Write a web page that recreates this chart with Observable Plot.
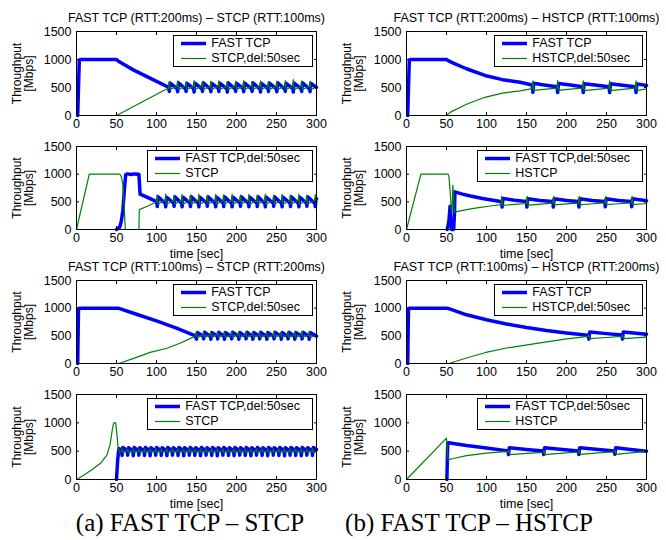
<!DOCTYPE html>
<html>
<head>
<meta charset="utf-8">
<script src="https://cdn.jsdelivr.net/npm/d3@7"></script>
<script src="https://cdn.jsdelivr.net/npm/@observablehq/plot@0.6"></script>
<style>
  body { margin: 0; background: #fff; }
  #fig { position: relative; width: 666px; height: 540px; overflow: hidden;
         font-family: "Liberation Sans", Arial, Helvetica, sans-serif; color: #000; }
  #fig svg.panel { position: absolute; }
  .legend { position: absolute; background: #fff; border: 1px solid #000;
            font-size: 12.5px; line-height: 15px; padding: 0px 12px 0px 7px; white-space: nowrap; }
  .legend .row { display: flex; align-items: center; height: 15px; }
  .legend .row svg { margin-right: 5px; flex: none; }
  .caption { position: absolute; font-family: "Liberation Serif", "Times New Roman", serif;
             font-size: 25px; line-height: 23px; white-space: nowrap; transform: translateX(-50%); }
</style>
</head>
<body>
<div id="fig"></div>
<script>
// ---- axis ticks ----
const xTicks = [0, 50, 100, 150, 200, 250, 300];
const yTicks = [0, 500, 1000, 1500];

// ---- titles / labels ----
const titles = [
  "FAST TCP (RTT:200ms) – STCP (RTT:100ms)",
  "FAST TCP (RTT:200ms) – HSTCP (RTT:100ms)",
  "FAST TCP (RTT:100ms) – STCP (RTT:200ms)",
  "FAST TCP (RTT:100ms) – HSTCP (RTT:200ms)"
];
const captions = ["(a) FAST TCP – STCP", "(b) FAST TCP – HSTCP"];
const yLabel = "Throughput\n[Mbps]";
const xLabel = "time [sec]";

// ---- throughput traces: [time (s), Mbps] ----
// FAST (RTT 200ms) vs STCP (RTT 100ms, starts at 50 s)
const fast1 = [
  [1.5,0],[3.5,990],[5,1000],[50,1000],[52,975],[60,905],[71,815],[90,680],[115,505],
  [116,430],[117,580],[126,475],
  [126.5,425],[127.5,585],[136.5,470],
  [137,430],[138,575],[146.5,480],
  [147,420],[148,580],[157,475],
  [157.5,430],[158.5,585],[167.5,470],
  [168,425],[169,575],[177.5,480],
  [178,430],[179,580],[188,475],
  [188.5,420],[189.5,585],[198.5,470],
  [199,430],[200,575],[208.5,480],
  [209,425],[210,580],[219,475],
  [219.5,430],[220.5,585],[229.5,470],
  [230,420],[231,575],[239.5,480],
  [240,430],[241,580],[250,475],
  [250.5,425],[251.5,585],[260.5,470],
  [261,430],[262,575],[270.5,480],
  [271,420],[272,580],[281,475],
  [281.5,430],[282.5,585],[291.5,470],
  [292,425],[293,575],[300,500]
];
const stcp1 = [
  [50,0],[115,490],
  [116,610],[117,465],[126,525],
  [126.5,620],[127.5,460],[136.5,530],
  [137,605],[138,465],[146.5,525],
  [147,625],[148,460],[157,530],
  [157.5,610],[158.5,465],[167.5,525],
  [168,615],[169,460],[177.5,530],
  [178,620],[179,465],[188,525],
  [188.5,605],[189.5,460],[198.5,530],
  [199,615],[200,465],[208.5,525],
  [209,625],[210,460],[219,530],
  [219.5,610],[220.5,465],[229.5,525],
  [230,620],[231,460],[239.5,530],
  [240,605],[241,465],[250,525],
  [250.5,615],[251.5,460],[260.5,530],
  [261,625],[262,465],[270.5,525],
  [271,640],[272,460],[281,530],
  [281.5,620],[282.5,465],[291.5,525],
  [292,615],[293,460],[300,515]
];

// FAST (RTT 200ms) vs HSTCP (RTT 100ms, starts at 50 s)
const fast2 = [
  [1.5,0],[3.5,990],[5,1000],[50,1000],[52,980],[60,925],[75,835],[98,715],[120,640],[142,595],[157,545],
  [158,415],[159,575],[170,550],[188,515],
  [189,410],[190,570],[205,545],[220,515],
  [221,410],[222,565],[238,540],[253,515],
  [254,410],[255,565],[270,540],[286,515],
  [287,410],[288,565],[300,535]
];
const hstcp2 = [
  [50,0],[55,60],[75,200],[98,325],[120,400],[142,440],[157,480],
  [158,620],[159,450],[175,470],[188,490],
  [189,625],[190,450],[205,470],[220,490],
  [221,620],[222,445],[238,468],[253,488],
  [254,620],[255,445],[270,467],[286,488],
  [287,620],[288,445],[300,475]
];

// FAST (RTT 200ms, starts at 50 s) vs STCP (RTT 100ms)
const fast3 = [
  [50,0],[54,40],[56,150],[58,350],[60,750],[61.5,990],[64,1005],[68,995],[72,1005],[77,1000],[78,995],
  [79.5,640],[90,570],[100,505],
  [101,415],[102,590],[111,470],
  [111.5,410],[112.5,585],[121.5,475],
  [122,420],[123,590],[131.5,470],
  [132,410],[133,585],[142,475],
  [142.5,415],[143.5,590],[152.5,470],
  [153,410],[154,585],[163,475],
  [163.5,420],[164.5,590],[173.5,470],
  [174,410],[175,585],[183.5,475],
  [184,415],[185,590],[194,470],
  [194.5,410],[195.5,585],[204.5,475],
  [205,420],[206,590],[215,470],
  [215.5,410],[216.5,585],[225.5,475],
  [226,415],[227,590],[235.5,470],
  [236,410],[237,585],[246,475],
  [246.5,420],[247.5,590],[256.5,470],
  [257,410],[258,585],[267,475],
  [267.5,415],[268.5,590],[277.5,470],
  [278,410],[279,585],[287.5,475],
  [288,420],[289,590],[298,470],
  [298.5,415],[299.5,560],[300,555]
];
const stcp3 = [
  [0,0],[16,1000],[54,1000],[56,960],[58,800],[59.5,450],[61,0],[78,0],[78.5,360],[90,430],[100,500],
  [101,625],[102,460],[111,530],
  [111.5,640],[112.5,455],[121.5,525],
  [122,620],[123,460],[131.5,530],
  [132,635],[133,455],[142,525],
  [142.5,625],[143.5,460],[152.5,530],
  [153,640],[154,455],[163,525],
  [163.5,620],[164.5,460],[173.5,530],
  [174,635],[175,455],[183.5,525],
  [184,625],[185,460],[194,530],
  [194.5,640],[195.5,455],[204.5,525],
  [205,620],[206,460],[215,530],
  [215.5,635],[216.5,455],[225.5,525],
  [226,625],[227,460],[235.5,530],
  [236,640],[237,455],[246,525],
  [246.5,620],[247.5,460],[256.5,530],
  [257,635],[258,455],[267,525],
  [267.5,625],[268.5,460],[277.5,530],
  [278,640],[279,455],[287.5,525],
  [288,620],[289,460],[298,530],
  [298.5,630],[299.5,470],[300,475]
];

// FAST (RTT 200ms, starts at 50 s) vs HSTCP (RTT 100ms)
const fast4 = [
  [51,0],[53,150],[54.5,420],[55.5,100],[56.5,0],[59,0],[60,300],[60.5,680],[70,640],[80,605],[95,560],[110,525],[119,500],
  [119.5,405],[120.5,560],[135,530],[150,505],
  [150.5,405],[151.5,555],[167,525],[183,505],
  [183.5,405],[184.5,555],[200,525],[215,505],
  [215.5,405],[216.5,555],[232,525],[248,505],
  [248.5,410],[249.5,555],[265,525],[281,505],
  [281.5,410],[282.5,555],[300,520]
];
const hstcp4 = [
  [0,0],[18,1000],[52,1000],[53,960],[54.5,700],[56,380],[57,330],[58,800],[59,560],[60,330],[61,320],
  [75,360],[90,395],[105,425],[118,450],
  [119,600],[120,435],[135,455],[150,470],
  [151,600],[152,440],[168,460],[183,475],
  [184,600],[185,445],[200,462],[215,478],
  [216,600],[217,445],[233,465],[248,480],
  [249,600],[250,450],[265,465],[281,480],
  [282,600],[283,450],[300,470]
];

// FAST (RTT 100ms) vs STCP (RTT 200ms, starts at 50 s)
const fast5 = [
  [1.5,0],[2.5,990],[4,1000],[52,1000],[75,890],[100,770],[125,640],[148,505],
  [150,440],[151,560],[158.5,490],
  [159,445],[160,565],[167.5,490],
  [168,440],[169,560],[176,495],
  [176.5,445],[177.5,565],[184.5,490],
  [185,440],[186,560],[193.5,490],
  [194,445],[195,565],[202.5,495],
  [203,440],[204,560],[211.5,490],
  [212,445],[213,565],[220,490],
  [220.5,440],[221.5,560],[228.5,495],
  [229,445],[230,565],[237.5,490],
  [238,440],[239,560],[246.5,490],
  [247,445],[248,565],[255.5,495],
  [256,440],[257,560],[264,490],
  [264.5,445],[265.5,565],[272.5,490],
  [273,440],[274,560],[281.5,495],
  [282,445],[283,565],[290.5,490],
  [291,440],[292,560],[300,495]
];
const stcp5 = [
  [53,0],[75,110],[92,200],[113,275],[130,370],[148,490],
  [150,565],[151,465],[158.5,520],
  [159,570],[160,470],[167.5,520],
  [168,565],[169,465],[176,525],
  [176.5,575],[177.5,470],[184.5,520],
  [185,565],[186,465],[193.5,520],
  [194,570],[195,470],[202.5,525],
  [203,565],[204,465],[211.5,520],
  [212,575],[213,470],[220,520],
  [220.5,565],[221.5,465],[228.5,525],
  [229,570],[230,470],[237.5,520],
  [238,565],[239,465],[246.5,520],
  [247,575],[248,470],[255.5,525],
  [256,565],[257,465],[264,520],
  [264.5,570],[265.5,470],[272.5,520],
  [273,565],[274,465],[281.5,525],
  [282,575],[283,470],[290.5,520],
  [291,565],[292,465],[300,515]
];

// FAST (RTT 100ms) vs HSTCP (RTT 200ms, starts at 50 s)
const fast6 = [
  [1.5,0],[2.5,990],[4,1000],[50,1000],[53,990],[75,880],[100,790],[125,715],[150,650],[175,595],[200,550],[227,510],
  [228,440],[229,570],[250,540],[269,515],
  [270,440],[271,570],[300,530]
];
const hstcp6 = [
  [53,0],[75,100],[98,195],[125,280],[159,356],[200,446],[227,490],
  [228,515],[229,450],[250,470],[269,490],
  [270,515],[271,450],[300,478]
];

// FAST (RTT 100ms, starts at 50 s) vs STCP (RTT 200ms)
const fast7 = [
  [50,0],[51.5,350],[53,545],[56.5,520],
  [57,425],[58,565],[63.5,510],
  [64,430],[65,560],[70.5,505],
  [71,420],[72,565],[77.5,510],
  [78,430],[79,560],[84.5,505],
  [85,425],[86,565],[91.5,510],
  [92,420],[93,560],[98.5,505],
  [99,430],[100,565],[105.5,510],
  [106,425],[107,560],[112.5,505],
  [113,420],[114,565],[119.5,510],
  [120,430],[121,560],[126.5,505],
  [127,425],[128,565],[133.5,510],
  [134,420],[135,560],[140.5,505],
  [141,430],[142,565],[147.5,510],
  [148,425],[149,560],[154.5,505],
  [155,420],[156,565],[161.5,510],
  [162,430],[163,560],[168.5,505],
  [169,425],[170,565],[175.5,510],
  [176,420],[177,560],[182.5,505],
  [183,430],[184,565],[189.5,510],
  [190,425],[191,560],[196.5,505],
  [197,420],[198,565],[203.5,510],
  [204,430],[205,560],[210.5,505],
  [211,425],[212,565],[217.5,510],
  [218,420],[219,560],[224.5,505],
  [225,430],[226,565],[231.5,510],
  [232,425],[233,560],[238.5,505],
  [239,420],[240,565],[245.5,510],
  [246,430],[247,560],[252.5,505],
  [253,425],[254,565],[259.5,510],
  [260,420],[261,560],[266.5,505],
  [267,430],[268,565],[273.5,510],
  [274,425],[275,560],[280.5,505],
  [281,420],[282,565],[287.5,510],
  [288,430],[289,560],[294.5,505],
  [295,425],[296,565],[300,530]
];
const stcp7 = [
  [0,0],[10,85],[20,180],[30,285],[38,430],[42,620],[45,900],[46.5,1000],[49,1000],[50.5,800],[52,560],[54,470],[56.5,505],
  [57,545],[58,470],[63.5,510],
  [64,540],[65,475],[70.5,505],
  [71,545],[72,470],[77.5,510],
  [78,540],[79,475],[84.5,505],
  [85,545],[86,470],[91.5,510],
  [92,540],[93,475],[98.5,505],
  [99,545],[100,470],[105.5,510],
  [106,540],[107,475],[112.5,505],
  [113,545],[114,470],[119.5,510],
  [120,540],[121,475],[126.5,505],
  [127,545],[128,470],[133.5,510],
  [134,540],[135,475],[140.5,505],
  [141,545],[142,470],[147.5,510],
  [148,540],[149,475],[154.5,505],
  [155,545],[156,470],[161.5,510],
  [162,540],[163,475],[168.5,505],
  [169,545],[170,470],[175.5,510],
  [176,540],[177,475],[182.5,505],
  [183,545],[184,470],[189.5,510],
  [190,540],[191,475],[196.5,505],
  [197,545],[198,470],[203.5,510],
  [204,540],[205,475],[210.5,505],
  [211,545],[212,470],[217.5,510],
  [218,540],[219,475],[224.5,505],
  [225,545],[226,470],[231.5,510],
  [232,540],[233,475],[238.5,505],
  [239,545],[240,470],[245.5,510],
  [246,540],[247,475],[252.5,505],
  [253,545],[254,470],[259.5,510],
  [260,540],[261,475],[266.5,505],
  [267,545],[268,470],[273.5,510],
  [274,540],[275,475],[280.5,505],
  [281,545],[282,470],[287.5,510],
  [288,540],[289,475],[294.5,505],
  [295,545],[296,470],[300,500]
];

// FAST (RTT 100ms, starts at 50 s) vs HSTCP (RTT 200ms)
const fast8 = [
  [50.5,0],[51.5,640],[52.5,650],[75,600],[100,555],[127,505],
  [127.5,440],[128.5,560],[150,530],[171,505],
  [171.5,440],[172.5,560],[195,530],[215,505],
  [215.5,440],[216.5,560],[240,530],[260,505],
  [260.5,445],[261.5,560],[280,530],[300,500]
];
const hstcp8 = [
  [0,0],[50,730],[52,350],[60,375],[75,420],[100,465],[127,495],
  [128,520],[129,440],[150,460],[171,480],
  [172,520],[173,440],[195,465],[215,485],
  [216,520],[217,445],[240,470],[260,490],
  [261,520],[262,445],[280,470],[300,495]
];

// legend entries per panel
const legendNames = [
  ["FAST TCP", "STCP,del:50sec"],
  ["FAST TCP", "HSTCP,del:50sec"],
  ["FAST TCP,del:50sec", "STCP"],
  ["FAST TCP,del:50sec", "HSTCP"],
  ["FAST TCP", "STCP,del:50sec"],
  ["FAST TCP", "HSTCP,del:50sec"],
  ["FAST TCP,del:50sec", "STCP"],
  ["FAST TCP,del:50sec", "HSTCP"]
];

const BLUE = "#0000ff", GREEN = "#008000";
const FONT = '"Liberation Sans", Arial, Helvetica, sans-serif';

// panel layout (column, frame top, frame height)
const layout = [
  {col: 0, top: 31,  h: 84, title: titles[0], fast: fast1, other: stcp1},
  {col: 1, top: 31,  h: 84, title: titles[1], fast: fast2, other: hstcp2},
  {col: 0, top: 146, h: 83, xlab: true, fast: fast3, other: stcp3},
  {col: 1, top: 146, h: 83, xlab: true, fast: fast4, other: hstcp4},
  {col: 0, top: 280, h: 83, title: titles[2], fast: fast5, other: stcp5},
  {col: 1, top: 280, h: 83, title: titles[3], fast: fast6, other: hstcp6},
  {col: 0, top: 394, h: 85, xlab: true, fast: fast7, other: stcp7},
  {col: 1, top: 394, h: 85, xlab: true, fast: fast8, other: hstcp8}
];

const fig = document.getElementById("fig");
const toRows = a => a.map(([t, v]) => ({t, v}));
const MT = 31, MB = 40, ML = 76, MR = 17, W = 333, COLX = [0, 330];

function sample(color, width) {
  return `<svg width="25" height="15"><line x1="0" x2="25" y1="7.5" y2="7.5" stroke="${color}" stroke-width="${width}"/></svg>`;
}

layout.forEach((p, i) => {
  const marks = [
    Plot.line(toRows(p.fast), {x: "t", y: "v", stroke: BLUE, strokeWidth: 3.5}),
    Plot.line(toRows(p.other), {x: "t", y: "v", stroke: GREEN, strokeWidth: 1.2}),
    Plot.frame({stroke: "#000", strokeWidth: 1}),
    Plot.axisX(xTicks, {anchor: "bottom", tickSize: -3, tickPadding: 6.5, tickFormat: d => String(d), label: null, fontSize: 12.5}),
    Plot.axisX(xTicks, {anchor: "top", tickSize: -3, tickFormat: () => "", label: null}),
    Plot.axisY(yTicks, {anchor: "left", tickSize: -3, tickPadding: 8, tickFormat: d => String(d), label: null, fontSize: 12.5}),
    Plot.axisY(yTicks, {anchor: "right", tickSize: -3, tickFormat: () => "", label: null}),
    Plot.text([yLabel], {text: d => d, frameAnchor: "left", textAnchor: "middle", lineAnchor: "middle",
                         rotate: -90, dx: -53, fontSize: 12, lineHeight: 1})
  ];
  if (p.title) marks.push(Plot.text([p.title], {text: d => d, frameAnchor: "top", lineAnchor: "middle", dy: -13.5, fontSize: 12.5}));
  if (p.xlab) marks.push(Plot.text([xLabel], {text: d => d, frameAnchor: "bottom", lineAnchor: "middle", dy: 24, fontSize: 12.5}));

  const svg = Plot.plot({
    width: W, height: MT + p.h + MB,
    marginLeft: ML, marginRight: MR, marginTop: MT, marginBottom: MB,
    x: {domain: [0, 300]},
    y: {domain: [0, 1500]},
    style: {fontFamily: FONT, fontSize: "12.5px", background: "transparent", overflow: "visible", color: "#000"},
    marks
  });
  svg.classList.add("panel");
  svg.style.left = COLX[p.col] + "px";
  svg.style.top = (p.top - MT) + "px";
  fig.appendChild(svg);

  // legend box in the upper right corner of the frame
  const frameRight = COLX[p.col] + W - MR;
  const lg = document.createElement("div");
  lg.className = "legend";
  lg.style.right = (666 - (frameRight - 3)) + "px";
  lg.style.top = (p.top + 4) + "px";
  lg.innerHTML =
    `<div class="row">${sample(BLUE, 3.5)}<span>${legendNames[i][0]}</span></div>` +
    `<div class="row">${sample(GREEN, 1.2)}<span>${legendNames[i][1]}</span></div>`;
  fig.appendChild(lg);
});

// sub-figure captions
[[190, captions[0]], [469, captions[1]]].forEach(([cx, txt]) => {
  const c = document.createElement("div");
  c.className = "caption";
  c.style.left = cx + "px";
  c.style.top = "511px";
  c.textContent = txt;
  fig.appendChild(c);
});
</script>
</body>
</html>
